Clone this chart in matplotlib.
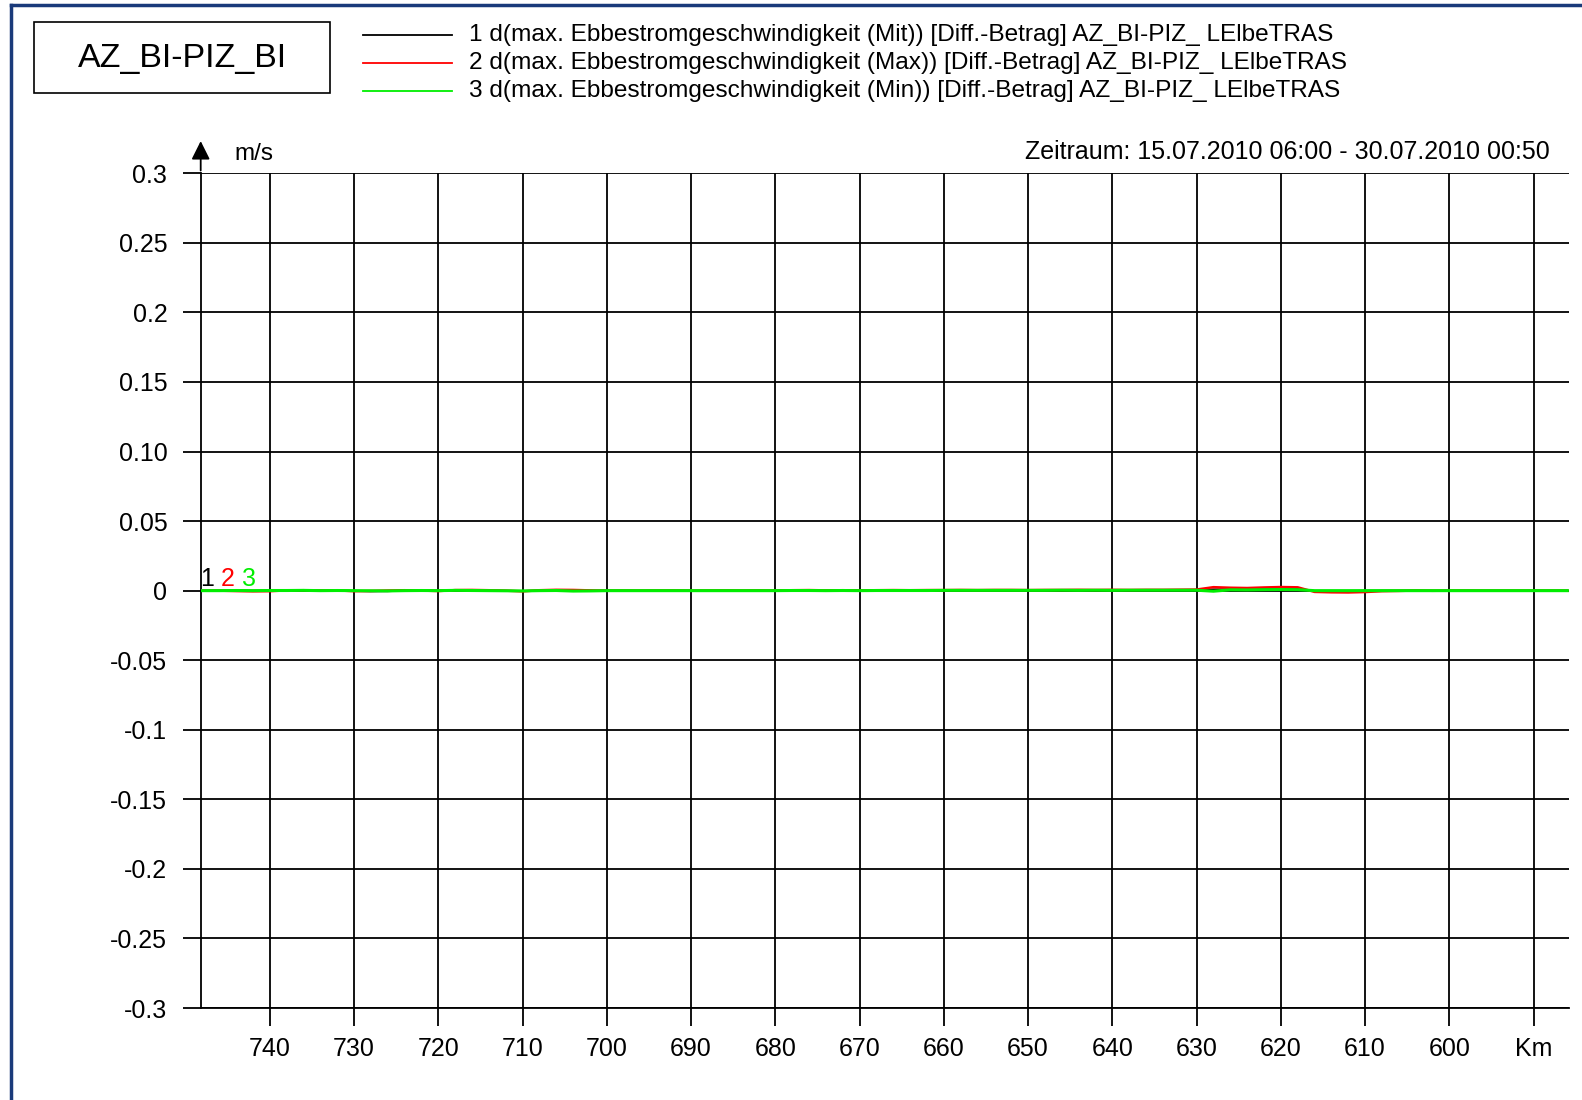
import matplotlib.pyplot as plt
from matplotlib.lines import Line2D
from matplotlib.patches import Rectangle

plt.rcParams['font.family'] = ['Liberation Sans', 'DejaVu Sans']

# Elbe-Kilometer (Stationierung)
km = [748, 746, 744, 742, 740, 738, 736, 734, 732, 730,
      728, 726, 724, 722, 720, 718, 716, 714, 712, 710,
      708, 706, 704, 702, 700, 698, 696, 694, 692, 690,
      688, 686, 684, 682, 680, 678, 676, 674, 672, 670,
      668, 666, 664, 662, 660, 658, 656, 654, 652, 650,
      648, 646, 644, 642, 640, 638, 636, 634, 632, 630,
      628, 626, 624, 622, 620, 618, 616, 614, 612, 610,
      608, 606, 604, 602, 600, 598, 596, 594, 592, 590,
      588, 586]

# Differenz max. Ebbestromgeschwindigkeit in m/s
d_mit = [0.0, 0.0, 0.0002, 0.0, 0.0001, 0.0002, 0.0001, 0.0, 0.0001, -0.0002,
         -0.0005, -0.0004, 0.0001, 0.0002, 0.0, 0.0003, 0.0002, 0.0001, -0.0001, -0.0003,
         0.0001, 0.0002, 0.0001, 0.0, 0.0, 0.0, 0.0, 0.0001, 0.0, 0.0,
         0.0, 0.0001, 0.0, 0.0001, 0.0, 0.0001, 0.0002, 0.0001, 0.0001, 0.0001,
         0.0001, 0.0001, 0.0002, 0.0001, 0.0002, 0.0002, 0.0002, 0.0002, 0.0003, 0.0002,
         0.0003, 0.0003, 0.0003, 0.0003, 0.0003, 0.0003, 0.0004, 0.0004, 0.0004, 0.0005,
         0.0009, 0.0010, 0.0011, 0.0012, 0.0013, 0.0012, -0.0002, -0.0002, -0.0002, -0.0001,
         0.0, 0.0, 0.0001, 0.0, 0.0, 0.0, 0.0, 0.0, 0.0, 0.0,
         0.0, 0.0]
d_max = [0.0, 0.0, -0.0003, -0.0005, -0.0004, 0.0002, 0.0003, 0.0001, 0.0002, -0.0004,
         -0.0002, 0.0001, 0.0003, 0.0001, -0.0003, 0.0004, 0.0005, 0.0003, 0.0, -0.0005,
         0.0003, 0.0006, 0.0005, 0.0002, 0.0, 0.0001, 0.0, 0.0001, 0.0002, 0.0,
         0.0001, 0.0002, 0.0001, 0.0002, 0.0, 0.0003, 0.0004, 0.0002, 0.0003, 0.0002,
         0.0003, 0.0004, 0.0003, 0.0004, 0.0004, 0.0005, 0.0004, 0.0005, 0.0005, 0.0004,
         0.0005, 0.0005, 0.0006, 0.0005, 0.0006, 0.0005, 0.0006, 0.0006, 0.0007, 0.0008,
         0.0025, 0.0021, 0.0019, 0.0023, 0.0026, 0.0024, -0.0009, -0.0012, -0.0013, -0.0010,
         -0.0004, -0.0002, 0.0001, -0.0001, 0.0, 0.0001, 0.0, 0.0, 0.0, 0.0,
         0.0, 0.0]
d_min = [0.0, 0.0, 0.0001, 0.0, 0.0001, 0.0001, 0.0002, 0.0, 0.0001, 0.0,
         -0.0001, -0.0002, 0.0, 0.0001, 0.0, 0.0002, 0.0001, 0.0, -0.0001, -0.0002,
         0.0, 0.0001, -0.0003, -0.0002, 0.0, 0.0, 0.0, 0.0, 0.0, 0.0,
         0.0, 0.0, 0.0, 0.0, 0.0, 0.0001, 0.0001, 0.0, 0.0001, 0.0,
         0.0001, 0.0001, 0.0001, 0.0001, 0.0002, 0.0002, 0.0002, 0.0002, 0.0002, 0.0002,
         0.0002, 0.0003, 0.0002, 0.0003, 0.0002, 0.0003, 0.0003, 0.0003, 0.0003, 0.0003,
         -0.0004, 0.0006, 0.0005, 0.0007, 0.0008, 0.0007, 0.0, 0.0, 0.0, 0.0,
         0.0, 0.0, 0.0, 0.0, 0.0, 0.0, 0.0, 0.0, 0.0, 0.0,
         0.0, 0.0]

x_ticks = [740, 730, 720, 710, 700, 690, 680, 670, 660, 650, 640, 630, 620, 610, 600, 590]
x_labels = ['740', '730', '720', '710', '700', '690', '680', '670', '660', '650',
            '640', '630', '620', '610', '600', 'Km']
y_ticks = [0.3, 0.25, 0.2, 0.15, 0.10, 0.05, 0, -0.05, -0.1, -0.15, -0.2, -0.25, -0.3]
y_labels = ['0.3', '0.25', '0.2', '0.15', '0.10', '0.05', '0',
            '-0.05', '-0.1', '-0.15', '-0.2', '-0.25', '-0.3']

series_names = ['1 d(max. Ebbestromgeschwindigkeit (Mit)) [Diff.-Betrag] AZ_BI-PIZ_ LElbeTRAS',
                '2 d(max. Ebbestromgeschwindigkeit (Max)) [Diff.-Betrag] AZ_BI-PIZ_ LElbeTRAS',
                '3 d(max. Ebbestromgeschwindigkeit (Min)) [Diff.-Betrag] AZ_BI-PIZ_ LElbeTRAS']
colors = ['#000000', '#ff0000', '#00ee00']

W, H = 1582, 1100
fig = plt.figure(figsize=(W / 100, H / 100), dpi=100)

# Rahmen links/oben
fig.add_artist(Line2D([11 / W, 11 / W], [0, 1 - 5 / H], color='#1a3a7a', lw=2.5))
fig.add_artist(Line2D([11 / W, 1], [1 - 5 / H, 1 - 5 / H], color='#1a3a7a', lw=2.5))

# Titelkasten
fig.add_artist(Rectangle((34 / W, 1 - 93 / H), 296 / W, 71 / H, fill=False,
                         edgecolor='black', lw=1.2))
fig.text(182 / W, 1 - 59 / H, 'AZ_BI-PIZ_BI', fontsize=24.5, ha='center', va='center')

# Legende
for i, (name, c) in enumerate(zip(series_names, colors)):
    yy = 1 - (35 + 28 * i) / H
    fig.add_artist(Line2D([363 / W, 452 / W], [yy, yy], color=c, lw=1.3))
    fig.text(469 / W, yy, name, fontsize=17.6, ha='left', va='center')

ax = fig.add_axes([200.7 / W, 1 - 1008 / H, (1569 - 200.7) / W, (1008 - 173.3) / H])
ax_w, ax_h = 1569 - 200.7, 1008 - 173.3

ax.plot(km, d_mit, color=colors[0], lw=1.4, zorder=3)
ax.plot(km, d_max, color=colors[1], lw=1.8, zorder=4)
ax.plot(km, d_min, color=colors[2], lw=2.2, zorder=5)

ax.set_xlim(748.2, 585.8)
ax.set_ylim(-0.3, 0.3)
ax.set_xticks(x_ticks)
ax.set_xticklabels(x_labels)
ax.set_yticks(y_ticks)
ax.set_yticklabels(y_labels)
ax.tick_params(axis='both', direction='out', length=13, width=1.3, labelsize=18,
               colors='black')
ax.tick_params(axis='y', pad=11)
ax.tick_params(axis='x', pad=8)
ax.grid(True, color='black', lw=1.3, zorder=1)
ax.set_axisbelow(True)
for s in ['top', 'right']:
    ax.spines[s].set_visible(False)
for s in ['left', 'bottom']:
    ax.spines[s].set_linewidth(1.3)

# Pfeil an der y-Achse
ax.annotate('', xy=(0, 1 + 35 / ax_h), xytext=(0, 1), xycoords='axes fraction',
            arrowprops=dict(arrowstyle='-|>', color='black', lw=1.3, mutation_scale=28))
ax.text(34 / ax_w, 1 + 19 / ax_h, 'm/s', transform=ax.transAxes, fontsize=17.5,
        ha='left', va='center')
ax.text(1 - 19 / ax_w, 1 + 21 / ax_h, 'Zeitraum: 15.07.2010 06:00 - 30.07.2010 00:50',
        transform=ax.transAxes, fontsize=18, ha='right', va='center')

# Kurvennummern am Anfang
for i, c in enumerate(colors):
    ax.text((-1 + 21 * i) / ax_w, 1 - (579 - 173.3) / ax_h, str(i + 1), color=c,
            transform=ax.transAxes, fontsize=18, ha='left', va='center')

fig.savefig('out.png', dpi=100)
